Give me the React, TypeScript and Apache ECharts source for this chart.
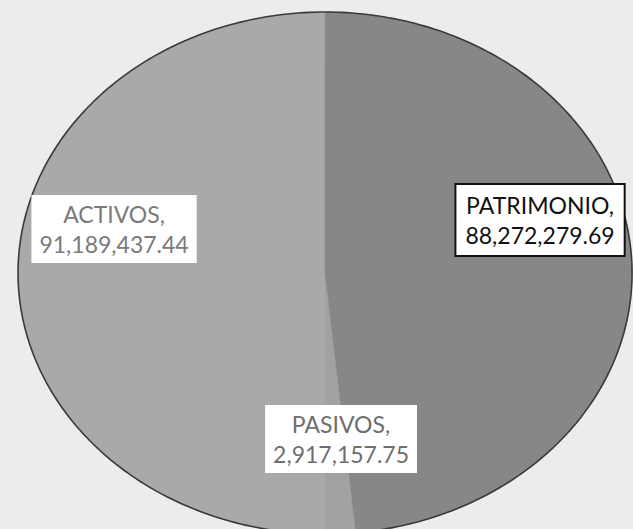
import React, { useEffect, useRef } from "react";
import * as echarts from "echarts";

const categories = ["ACTIVOS", "PASIVOS", "PATRIMONIO"];
const values = [91189437.44, 2917157.75, 88272279.69];
const sliceColors = ["#a9a9a9", "#a2a2a2", "#878787"];
const textColors = ["#7a7a7a", "#6e6e6e", "#111111"];

// label box centre offsets relative to the pie centre (layout, not data)
const labelOffsets: Record<string, [number, number]> = {
  ACTIVOS: [-211, -44],
  PASIVOS: [16, 166],
  PATRIMONIO: [215, -53],
};

const fmt = (v: number) =>
  v.toLocaleString("en-US", { minimumFractionDigits: 2, maximumFractionDigits: 2 });

export default function App() {
  const ref = useRef<HTMLDivElement>(null);
  useEffect(() => {
    if (!ref.current) return;
    const chart = echarts.init(ref.current, undefined, { renderer: "svg" });
    const total = values.reduce((a, b) => a + b, 0);
    const cum: number[] = [];
    values.reduce((acc, v) => {
      cum.push(acc);
      return acc + v;
    }, 0);

    const renderItem = (params: any, api: any) => {
      const i = params.dataIndex;
      const W = api.getWidth();
      const H = api.getHeight();
      const cx = W * 0.5135;
      const cy = H * 0.5161;
      const rx = 307;
      const ry = 261;
      const v = api.value(0);
      const a0 = (cum[i] / total) * Math.PI * 2;
      const a1 = ((cum[i] + v) / total) * Math.PI * 2;
      // counter-clockwise from 12 o'clock
      const pt = (t: number) => [cx - rx * Math.sin(t), cy - ry * Math.cos(t)];
      const arc: number[][] = [];
      const steps = Math.max(2, Math.ceil(((a1 - a0) * 180) / Math.PI));
      for (let s = 0; s <= steps; s++) arc.push(pt(a0 + ((a1 - a0) * s) / steps));
      const name = categories[i];
      const off = labelOffsets[name];
      const isDark = name === "PATRIMONIO";
      return {
        type: "group",
        children: [
          {
            type: "polygon",
            shape: { points: [[cx, cy], ...arc] },
            style: { fill: sliceColors[i], stroke: sliceColors[i], lineWidth: 0.5 },
          },
          {
            type: "polyline",
            shape: { points: arc },
            style: { fill: "none", stroke: "#3a3a3a", lineWidth: 1.6 },
          },
          {
            type: "text",
            x: cx + off[0],
            y: cy + off[1],
            z2: 10,
            style: {
              text: `${name},\n${fmt(v)}`,
              fontFamily: "Lato, 'Open Sans', sans-serif",
              fontSize: 23,
              lineHeight: 30,
              fill: textColors[i],
              align: "center",
              verticalAlign: "middle",
              backgroundColor: "#ffffff",
              padding: isDark ? [5, 9, 5, 9] : [4, 8, 4, 8],
              borderColor: isDark ? "#111111" : undefined,
              borderWidth: isDark ? 2 : 0,
            },
          },
        ],
      };
    };

    chart.setOption({
      animation: false,
      backgroundColor: "#ececec",
      series: [
        {
          type: "custom",
          coordinateSystem: "none",
          renderItem,
          data: values.map((v, i) => ({ name: categories[i], value: [v] })),
        },
      ],
    });
    return () => chart.dispose();
  }, []);
  return (
    <div
      ref={ref}
      style={{ position: "absolute", left: 0, top: 0, width: 633, height: 529 }}
    />
  );
}
